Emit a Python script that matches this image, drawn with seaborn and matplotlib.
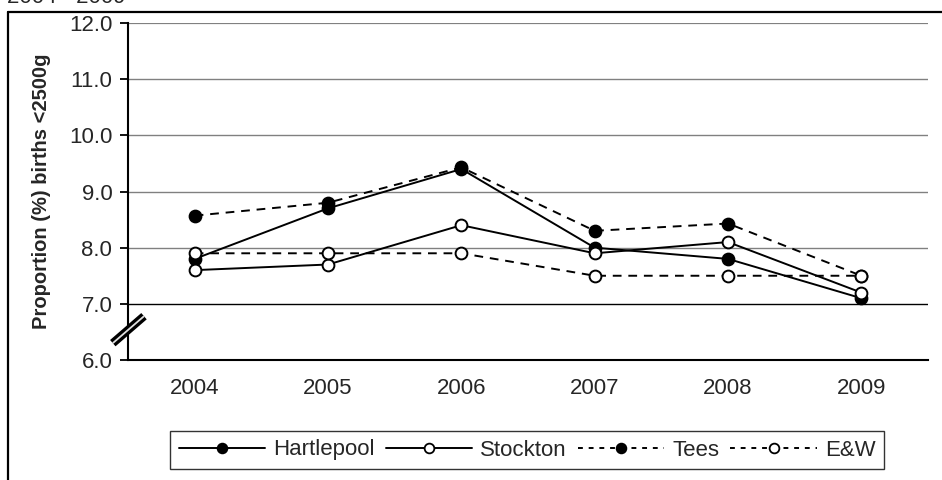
import numpy as np
import pandas as pd
import matplotlib.pyplot as plt
import seaborn as sns
from matplotlib.lines import Line2D

years = ['2004', '2005', '2006', '2007', '2008', '2009']
hartlepool = [7.8, 8.7, 9.4, 8.0, 7.8, 7.1]
stockton = [7.6, 7.7, 8.4, 7.9, 8.1, 7.2]
tees = [8.57, 8.8, 9.43, 8.3, 8.43, 7.5]
eandw = [7.9, 7.9, 7.9, 7.5, 7.5, 7.5]

series_names = ['Hartlepool', 'Stockton', 'Tees', 'E&W']
series_vals = [hartlepool, stockton, tees, eandw]
fills = ['black', 'white', 'black', 'white']
dash = (0, (4.5, 3.5))
styles = ['-', '-', dash, dash]

sns.set_style('white')
plt.rcParams['font.family'] = ['Liberation Sans', 'DejaVu Sans']

fig = plt.figure(figsize=(9.42, 4.80), dpi=100)
ax = fig.add_axes([128 / 942, 1 - 360 / 480, (928 - 128) / 942, (360 - 23) / 480])

# series drawn in order, later ones on top (E&W last)
for i in range(4):
    df = pd.DataFrame({'x': np.arange(len(years)), 'y': series_vals[i]})
    sns.lineplot(data=df, x='x', y='y', ax=ax, color='black', linewidth=1.4,
                 linestyle=styles[i], marker='o', markersize=8.5,
                 markerfacecolor=fills[i], markeredgecolor='black',
                 markeredgewidth=1.4, zorder=3)

ax.set_xlim(-0.5, 5.5)
ax.set_ylim(6.0, 12.0)
yt = np.arange(6, 12.01, 1.0)
ax.set_yticks(yt)
ax.set_yticklabels([f'{v:.1f}' for v in yt], fontsize=16)
ax.set_xticks(np.arange(len(years)))
ax.set_xticklabels(years, fontsize=16)
ax.set_xticks(np.arange(-0.5, 6, 1.0), minor=True)
ax.tick_params(axis='x', which='major', length=0, pad=13)
ax.tick_params(axis='x', which='minor', length=5, width=1.3, direction='out', color='black')
ax.tick_params(axis='y', length=5.8, width=1.3, direction='out', color='black', left=True, pad=5.5)

for v in range(7, 13):
    ax.axhline(v, color='black' if v == 7 else '#808080',
               linewidth=1.6 if v == 12 else 1.0, zorder=1)

for s in ['top', 'right']:
    ax.spines[s].set_visible(False)
for s in ['left', 'bottom']:
    ax.spines[s].set_color('black')
    ax.spines[s].set_linewidth(1.5)

ax.set_xlabel('')
ax.set_ylabel('Proportion (%) births <2500g', fontsize=14.5, fontweight='bold', labelpad=13)

# axis break mark
bx = [-0.019, 0.02]
by = [0.05, 0.13]
ax.plot(bx, by, transform=ax.transAxes, color='black', linewidth=6,
        clip_on=False, solid_capstyle='butt', zorder=5)
ax.plot(bx, by, transform=ax.transAxes, color='#e0e0e0', linewidth=1.3,
        clip_on=False, solid_capstyle='butt', zorder=6)

# outer frame (cropped in the original)
fig.add_artist(Line2D([8 / 942, 8 / 942], [0, 1 - 12 / 480], color='black', linewidth=1.6))
fig.add_artist(Line2D([8 / 942, 1], [1 - 12 / 480, 1 - 12 / 480], color='black', linewidth=1.6))
fig.text(7 / 942, 1 - 3 / 480, '2004 - 2009', fontsize=16, va='baseline', ha='left')

leg_dash = (0, (2.5, 3))
leg_styles = ['-', '-', leg_dash, leg_dash]
handles = [Line2D([0], [0], color='black', linewidth=1.4, linestyle=leg_styles[i],
                  marker='o', markersize=7, markerfacecolor=fills[i],
                  markeredgecolor='black', markeredgewidth=1.3) for i in range(4)]
leg = fig.legend(handles, series_names, loc='center',
                 bbox_to_anchor=(527 / 942, 1 - 450 / 480),
                 ncol=4, fontsize=16, frameon=True, fancybox=False, handlelength=3.9,
                 columnspacing=0.5, handletextpad=0.35, borderpad=0.4,
                 borderaxespad=0)
leg.get_frame().set_edgecolor('black')
leg.get_frame().set_linewidth(1.0)

fig.savefig('out.png', dpi=100)
